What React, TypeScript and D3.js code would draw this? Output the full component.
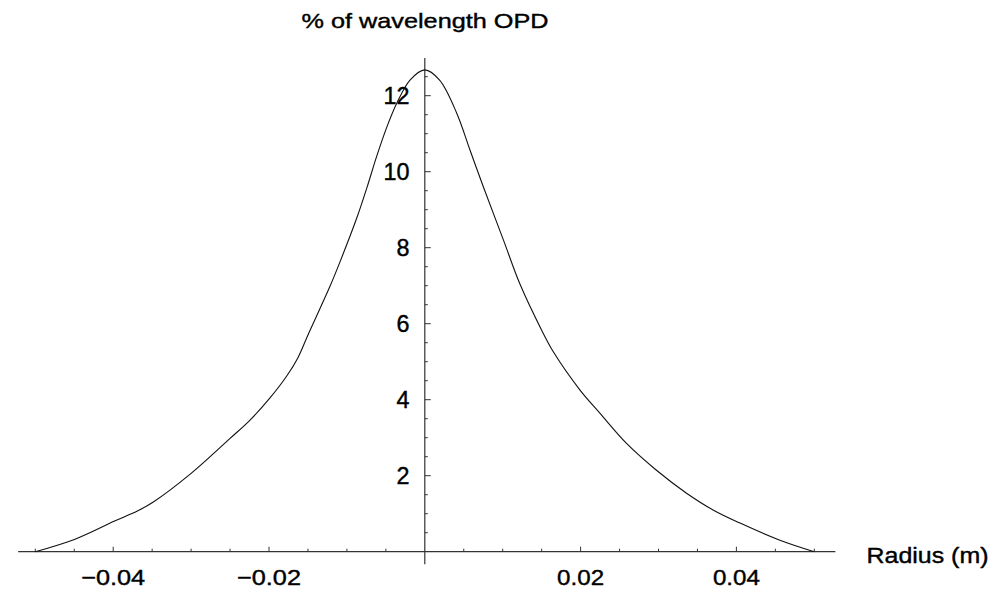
import React from "react";
import * as d3 from "d3";

const radius = [
  -0.05, -0.0449, -0.0399, -0.0369, -0.0349, -0.03, -0.025, -0.0224, -0.0199, -0.0177,
  -0.0163, -0.0149, -0.0122, -0.0109, -0.0087, -0.0074, -0.0062, -0.0049, -0.0036, -0.0019,
  0.0, 0.0019, 0.0041, 0.0058, 0.0075, 0.0101, 0.0122, 0.015, 0.0165, 0.0199,
  0.0225, 0.0259, 0.0297, 0.0336, 0.037, 0.0404, 0.0455, 0.05,
];
const opd = [
  0, 0.33, 0.8, 1.07, 1.3, 2.06, 2.98, 3.47, 4.04, 4.63,
  5.1, 5.75, 6.97, 7.62, 8.8, 9.6, 10.39, 11.16, 11.8, 12.41,
  12.68, 12.41, 11.54, 10.57, 9.61, 8.2, 7.05, 5.83, 5.26, 4.26,
  3.64, 2.85, 2.15, 1.54, 1.1, 0.76, 0.31, 0,
];
const xMajorTicks = [-0.04, -0.02, 0.02, 0.04];
const xTickLabels = ["\u22120.04", "\u22120.02", "0.02", "0.04"];
const yMajorTicks = [2, 4, 6, 8, 10, 12];
const yTickLabels = ["2", "4", "6", "8", "10", "12"];
const xTitle = "Radius (m)";
const yTitle = "% of wavelength OPD";

export default function App() {
  const x = d3.scaleLinear().domain([0, 0.01]).range([424.8, 502.7]);
  const y = d3.scaleLinear().domain([0, 2]).range([551.7, 475.7]);
  const x0 = x(0);
  const y0 = y(0);
  const xMinor = d3.range(-0.05, 0.0501, 0.005).filter(v => Math.abs(v) > 1e-9 && !xMajorTicks.some(m => Math.abs(m - v) < 1e-9));
  const yMinor = d3.range(0.5, 12.51, 0.5).filter(v => Math.abs(v % 2) > 1e-9);
  const pts: [number, number][] = radius.map((r, i) => [r, opd[i]]);
  const line = d3.line<[number, number]>().x(d => x(d[0])).y(d => y(d[1])).curve(d3.curveCatmullRom.alpha(0.5));
  const font = "'Liberation Sans', Arial, sans-serif";
  const axisColor = "#333";
  const textStroke = { stroke: "#000", strokeWidth: 0.4 };
  return (
    <svg width={1001} height={592} style={{ position: "absolute", left: 0, top: 0, background: "#fff" }} fontFamily={font}>
      <rect x={0} y={0} width={1001} height={592} fill="#fff" />
      {/* x axis */}
      <line x1={x(-0.0522)} x2={x(0.0527)} y1={y0} y2={y0} stroke={axisColor} strokeWidth={1.2} />
      {xMinor.map((v, i) => (
        <line key={"xm" + i} x1={x(v)} x2={x(v)} y1={y0} y2={y0 - 3} stroke={axisColor} strokeWidth={1} />
      ))}
      {xMajorTicks.map((v, i) => (
        <line key={"xM" + i} x1={x(v)} x2={x(v)} y1={y0} y2={y0 - 5} stroke={axisColor} strokeWidth={1} />
      ))}
      {xMajorTicks.map((v, i) => (
        <text key={"xl" + i} x={x(v)} y={585} textAnchor="middle" fontSize={22} fill="#000" {...textStroke}
          textLength={v < 0 ? 64 : 47} lengthAdjust="spacingAndGlyphs">{xTickLabels[i]}</text>
      ))}
      {/* y axis */}
      <line x1={x0} x2={x0} y1={y(12.99)} y2={y(-0.33)} stroke={axisColor} strokeWidth={1.2} />
      {yMinor.map((v, i) => (
        <line key={"ym" + i} x1={x0} x2={x0 + 3} y1={y(v)} y2={y(v)} stroke={axisColor} strokeWidth={1} />
      ))}
      {yMajorTicks.map((v, i) => (
        <line key={"yM" + i} x1={x0} x2={x0 + 6} y1={y(v)} y2={y(v)} stroke={axisColor} strokeWidth={1} />
      ))}
      {yMajorTicks.map((v, i) => (
        <text key={"yl" + i} x={409.5} y={y(v) + 8.3} textAnchor="end" fontSize={23} fill="#000" {...textStroke}
          textLength={yTickLabels[i].length > 1 ? 26 : 13} lengthAdjust="spacingAndGlyphs">{yTickLabels[i]}</text>
      ))}
      {/* titles */}
      <text x={425} y={28} textAnchor="middle" fontSize={21} fill="#000" {...textStroke} textLength={247} lengthAdjust="spacingAndGlyphs">{yTitle}</text>
      <text x={866.5} y={563} textAnchor="start" fontSize={22} fill="#000" {...textStroke} textLength={122} lengthAdjust="spacingAndGlyphs">{xTitle}</text>
      {/* curve */}
      <path d={line(pts) || ""} fill="none" stroke="#111" strokeWidth={1.1} />
    </svg>
  );
}
